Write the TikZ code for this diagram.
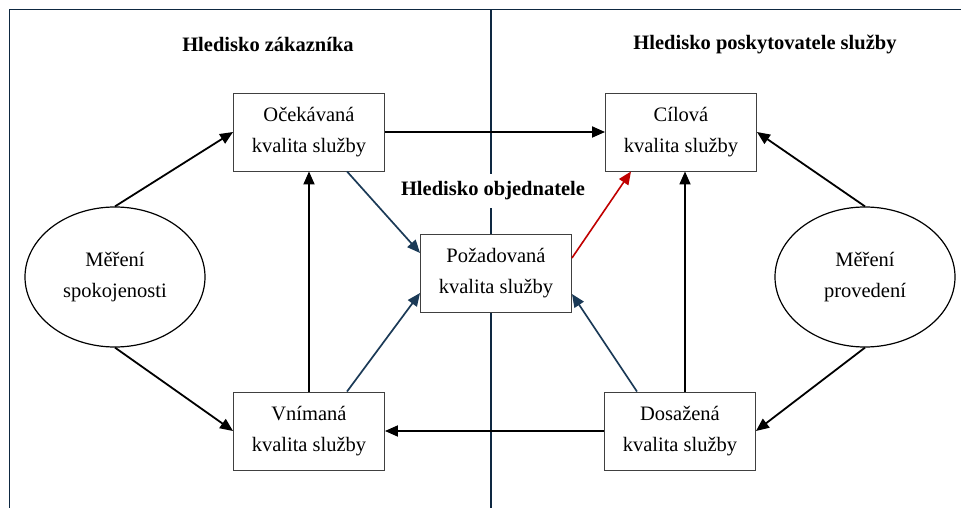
\documentclass[tikz,border=0pt]{standalone}
\usepackage{fontspec}
\setmainfont{Liberation Serif}
\usetikzlibrary{arrows.meta,shapes.geometric}
\definecolor{ramec}{HTML}{0E2841}
\definecolor{modra}{HTML}{1B3A57}
\definecolor{cervena}{HTML}{C00000}
\tikzset{
  kvalita/.style={draw=black!75, line width=0.9pt, fill=white, minimum width=151pt, minimum height=78pt, align=center, font=\fontsize{20.5}{31}\selectfont},
  mereni/.style={ellipse, draw, line width=1.2pt, minimum width=180pt, minimum height=140pt, align=center, font=\fontsize{20.5}{31}\selectfont},
  hledisko/.style={font=\fontsize{20.5}{24}\selectfont\bfseries},
  sipka/.style={-{Triangle[length=13pt,width=11pt]}, line width=1.8pt},
  modrasipka/.style={sipka, draw=modra, fill=modra, line width=1.7pt},
}
\begin{document}
\begin{tikzpicture}[x=1pt,y=-1pt]
\useasboundingbox (0,0) rectangle (961,508);
\draw[ramec, line width=1.5pt] (9.5,508) -- (9.5,9.5) -- (961,9.5);
\draw[ramec, line width=1.5pt] (491,9.5) -- (491,508);
% Hlediska
\node[hledisko] (zakaznik) at (268,44) {Hledisko zákazníka};
\node[hledisko] (poskytovatel) at (765,44) {Hledisko poskytovatele služby};
\node[hledisko, fill=white, inner sep=8pt] (objednatel) at (493,191) {Hledisko objednatele};
% Kvalita
\node[kvalita] (ocekavana) at (309,132) {Očekávaná\\kvalita služby};
\node[kvalita] (cilova) at (681,132) {Cílová\\kvalita služby};
\node[kvalita] (pozadovana) at (496,273) {Požadovaná\\kvalita služby};
\node[kvalita] (vnimana) at (309,431) {Vnímaná\\kvalita služby};
\node[kvalita] (dosazena) at (680,431) {Dosažená\\kvalita služby};
\node[mereni] (spokojenost) at (115,277) {Měření\\spokojenosti};
\node[mereni] (provedeni) at (865,277) {Měření\\provedení};
% Sipky
\draw[sipka] (spokojenost.north) -- (ocekavana.west);
\draw[sipka] (spokojenost.south) -- (vnimana.west);
\draw[sipka] (vnimana.north) -- (ocekavana.south);
\draw[sipka] (ocekavana.east) -- (cilova.west);
\draw[sipka] ([xshift=5pt]dosazena.north) -- ([xshift=4pt]cilova.south);
\draw[sipka] (dosazena.west) -- (vnimana.east);
\draw[sipka] (provedeni.north) -- (cilova.east);
\draw[sipka] (provedeni.south) -- (dosazena.east);
\draw[modrasipka] ([xshift=38pt]ocekavana.south) -- ([yshift=20pt]pozadovana.west);
\draw[modrasipka] ([xshift=38pt]vnimana.north) -- ([yshift=-20pt]pozadovana.west);
\draw[modrasipka] ([xshift=-43pt]dosazena.north) -- ([yshift=-21pt]pozadovana.east);
\draw[sipka, draw=cervena, fill=cervena, line width=1.6pt] ([yshift=15pt]pozadovana.east) -- ([xshift=-50pt]cilova.south);
\end{tikzpicture}
\end{document}
